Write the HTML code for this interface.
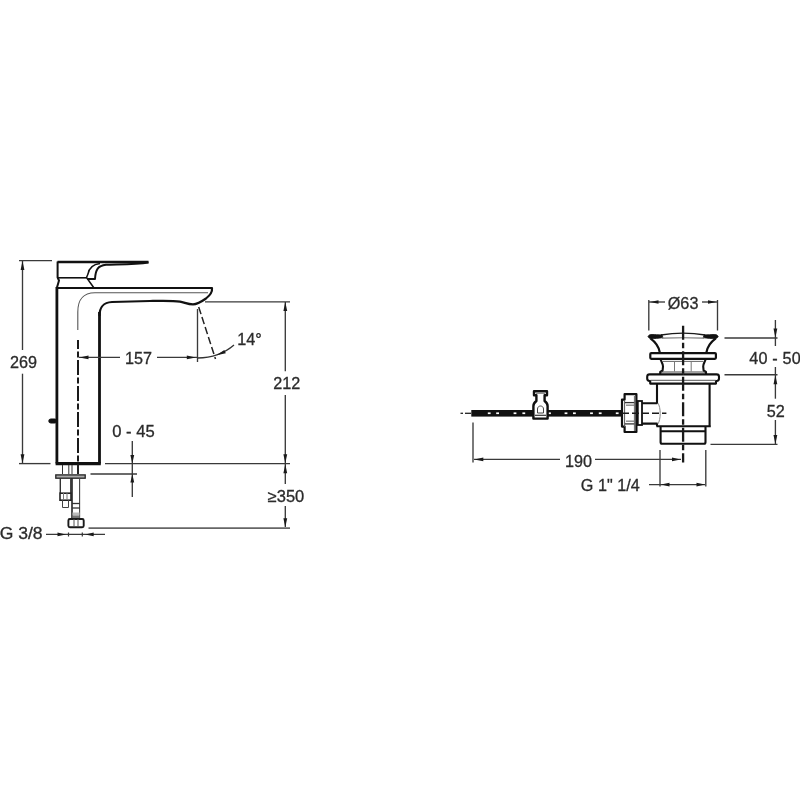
<!DOCTYPE html>
<html lang="en"><head><meta charset="utf-8"><title>Dimensions</title>
<style>
html,body{margin:0;padding:0;background:#fff;}
body{width:800px;height:800px;overflow:hidden;}
svg{display:block;font-family:"Liberation Sans",sans-serif;will-change:transform;}
</style></head><body>
<svg width="800" height="800" viewBox="0 0 800 800">
<rect width="800" height="800" fill="#fff"/>
<line x1="19" y1="260.6" x2="52" y2="260.6" stroke="#3a3a3a" stroke-width="1.35" />
<line x1="22.5" y1="261" x2="22.5" y2="350" stroke="#3a3a3a" stroke-width="1.35" />
<line x1="22.5" y1="373.7" x2="22.5" y2="463" stroke="#3a3a3a" stroke-width="1.35" />
<polygon points="22.5,261 20.6,270 24.4,270" fill="#1a1a1a"/>
<polygon points="22.5,463.3 20.6,454.3 24.4,454.3" fill="#1a1a1a"/>
<text x="23.6" y="368.1" font-size="16.2" text-anchor="middle" fill="#2b2b2b" stroke="#2b2b2b" stroke-width="0.3">269</text>
<line x1="19" y1="463.6" x2="50.5" y2="463.6" stroke="#3a3a3a" stroke-width="1.35" />
<line x1="105" y1="463.6" x2="290" y2="463.6" stroke="#3a3a3a" stroke-width="1.35" />
<path d="M57.5,262 H148.5" stroke="#111" stroke-width="2.4" fill="none" stroke-linejoin="round" />
<path d="M57.6,261.5 V277.5 L59,280.5 L58,284 L56.8,288" stroke="#111" stroke-width="2" fill="none" stroke-linejoin="round" />
<path d="M58,277.8 H86.5" stroke="#111" stroke-width="1.6" fill="none" stroke-linejoin="round" />
<path d="M148.5,262.6 C135,264.8 115,264.3 106,264.8 C98,265.8 95.5,269 95,279 H87" stroke="#111" stroke-width="2" fill="none" stroke-linejoin="round" />
<path d="M100,263.5 C92,264.5 89,268 88,274 L86.5,277.5 L94,288" stroke="#111" stroke-width="1.5" fill="none" stroke-linejoin="round" />
<path d="M56.9,288 H212 C212.5,292 210.5,295 206,298.5 C201,302 197,304.3 193,304.3 C188,304.3 185,302.6 180,301.6 C172,300.4 160,300.8 150,301 C138,301.3 125,301.6 112,302 C103,302.5 99.5,307 99.5,316" stroke="#111" stroke-width="2.2" fill="none" stroke-linejoin="round" />
<path d="M99.5,312 V463.4 M56.9,287 V463.4" stroke="#111" stroke-width="2.8" fill="none" stroke-linejoin="round" />
<path d="M55.6,463.7 H100.8" stroke="#111" stroke-width="3.2" fill="none" stroke-linejoin="round" />
<path d="M77.8,330 V312 C77.8,299 83,293 95,292.8 H208" stroke="#555" stroke-width="1.1" fill="none" stroke-linejoin="round" />
<line x1="78" y1="340" x2="78" y2="465" stroke="#1a1a1a" stroke-width="2" stroke-dasharray="15 2.5 6 2.5" stroke-dashoffset="6"/>
<rect x="48.8" y="419" width="8" height="4" rx="2" stroke="#111" stroke-width="1" fill="#111"/>
<line x1="62.5" y1="465" x2="62.5" y2="474" stroke="#333" stroke-width="1" />
<line x1="68.8" y1="465" x2="68.8" y2="474" stroke="#333" stroke-width="1" />
<line x1="72" y1="465" x2="72" y2="474" stroke="#333" stroke-width="1" />
<line x1="78" y1="465" x2="78" y2="474" stroke="#222" stroke-width="2" />
<rect x="55.8" y="474.9" width="29.4" height="3.3" rx="0" stroke="#222" stroke-width="1.3" fill="#aaa"/>
<line x1="90.5" y1="474" x2="137" y2="474" stroke="#3a3a3a" stroke-width="1.35" />
<path d="M60.3,478 V493 M70.8,478 V493" stroke="#333" stroke-width="1.4" fill="none" stroke-linejoin="round" />
<rect x="60" y="493.2" width="11" height="7" rx="0" stroke="#222" stroke-width="1.6" fill="none"/>
<line x1="63.5" y1="493" x2="63.5" y2="500" stroke="#777" stroke-width="1" />
<line x1="67" y1="493" x2="67" y2="500" stroke="#777" stroke-width="1" />
<path d="M62.5,500 V507.5 H68.5 V500" stroke="#444" stroke-width="1" fill="none" stroke-linejoin="round" />
<path d="M72,478 V519" stroke="#222" stroke-width="1.6" fill="none" stroke-linejoin="round" />
<path d="M79.6,478 V519" stroke="#444" stroke-width="1.1" fill="none" stroke-linejoin="round" />
<line x1="72" y1="503.5" x2="80" y2="503.5" stroke="#333" stroke-width="1.3" />
<line x1="72" y1="508" x2="80" y2="508" stroke="#333" stroke-width="1.3" />
<rect x="72.5" y="512.5" width="7" height="3" fill="#bbb"/><rect x="72.5" y="515.5" width="7" height="3" fill="#777"/>
<rect x="68.4" y="519" width="15.3" height="8.3" rx="1.5" stroke="#1a1a1a" stroke-width="1.9" fill="none"/>
<line x1="74" y1="519" x2="74" y2="527" stroke="#555" stroke-width="1" />
<line x1="78" y1="519" x2="78" y2="527" stroke="#555" stroke-width="1" />
<line x1="88.5" y1="528.1" x2="290" y2="528.1" stroke="#666" stroke-width="1.8" />
<text x="-0.3" y="539.1" font-size="16.2" text-anchor="start" fill="#2b2b2b" stroke="#2b2b2b" stroke-width="0.3" textLength="42.9" lengthAdjust="spacingAndGlyphs">G 3/8</text>
<line x1="46" y1="534.4" x2="105" y2="534.4" stroke="#3a3a3a" stroke-width="1.35" />
<polygon points="66,534.4 57.5,532.6 57.5,536.1999999999999" fill="#1a1a1a"/>
<polygon points="85.2,534.4 93.7,532.6 93.7,536.1999999999999" fill="#1a1a1a"/>
<line x1="68.5" y1="532.5" x2="68.5" y2="536.5" stroke="#333" stroke-width="1.2" />
<line x1="82.3" y1="532.5" x2="82.3" y2="536.5" stroke="#333" stroke-width="1.2" />
<text x="133.4" y="436.9" font-size="16.2" text-anchor="middle" fill="#2b2b2b" stroke="#2b2b2b" stroke-width="0.3" textLength="42.5" lengthAdjust="spacingAndGlyphs">0 - 45</text>
<line x1="132.3" y1="441" x2="132.3" y2="497" stroke="#3a3a3a" stroke-width="1.35" />
<polygon points="132.3,463.6 130.4,455.1 134.20000000000002,455.1" fill="#1a1a1a"/>
<polygon points="132.3,474 130.4,482.5 134.20000000000002,482.5" fill="#1a1a1a"/>
<line x1="79" y1="357.4" x2="120" y2="357.4" stroke="#3a3a3a" stroke-width="1.35" />
<line x1="157" y1="357.4" x2="197" y2="357.4" stroke="#3a3a3a" stroke-width="1.35" />
<polygon points="79.5,357.4 88.5,355.5 88.5,359.29999999999995" fill="#1a1a1a"/>
<polygon points="195.8,357.4 186.8,355.5 186.8,359.29999999999995" fill="#1a1a1a"/>
<text x="138.5" y="363.7" font-size="16.2" text-anchor="middle" fill="#2b2b2b" stroke="#2b2b2b" stroke-width="0.3">157</text>
<line x1="197.5" y1="309" x2="197.5" y2="362" stroke="#3a3a3a" stroke-width="1.35" />
<line x1="198.7" y1="307" x2="215.5" y2="359" stroke="#222" stroke-width="1.5" stroke-dasharray="7.5 3"/>
<path d="M197.5,358 C212,357.8 225,352.8 234,345" stroke="#333" stroke-width="1.3" fill="none" stroke-linejoin="round" />
<polygon points="216.5,355.2 224.3,350 225.8,353.2" fill="#1a1a1a"/>
<text x="249.6" y="344.5" font-size="16.2" text-anchor="middle" fill="#2b2b2b" stroke="#2b2b2b" stroke-width="0.3">14°</text>
<line x1="205" y1="301.8" x2="290" y2="301.8" stroke="#3a3a3a" stroke-width="1.35" />
<line x1="285.3" y1="302" x2="285.3" y2="371.3" stroke="#3a3a3a" stroke-width="1.35" />
<line x1="285.3" y1="395" x2="285.3" y2="463" stroke="#3a3a3a" stroke-width="1.35" />
<polygon points="285.3,302 283.40000000000003,311 287.2,311" fill="#1a1a1a"/>
<polygon points="285.3,463.3 283.40000000000003,454.3 287.2,454.3" fill="#1a1a1a"/>
<text x="286.8" y="389.4" font-size="16.2" text-anchor="middle" fill="#2b2b2b" stroke="#2b2b2b" stroke-width="0.3">212</text>
<line x1="285.3" y1="464" x2="285.3" y2="484" stroke="#3a3a3a" stroke-width="1.35" />
<line x1="285.3" y1="506" x2="285.3" y2="527" stroke="#3a3a3a" stroke-width="1.35" />
<polygon points="285.3,464.2 283.40000000000003,473.2 287.2,473.2" fill="#1a1a1a"/>
<polygon points="285.3,527.2 283.40000000000003,518.2 287.2,518.2" fill="#1a1a1a"/>
<text x="286" y="501.9" font-size="16.2" text-anchor="middle" fill="#2b2b2b" stroke="#2b2b2b" stroke-width="0.3" textLength="36.6" lengthAdjust="spacingAndGlyphs">≥350</text>
<line x1="648.8" y1="300" x2="648.8" y2="330.5" stroke="#3a3a3a" stroke-width="1.35" />
<line x1="717.5" y1="300" x2="717.5" y2="330.5" stroke="#3a3a3a" stroke-width="1.35" />
<line x1="649" y1="302" x2="665" y2="302" stroke="#3a3a3a" stroke-width="1.35" />
<line x1="702" y1="302" x2="717" y2="302" stroke="#3a3a3a" stroke-width="1.35" />
<polygon points="650,302 658.5,300.2 658.5,303.8" fill="#1a1a1a"/>
<polygon points="716.5,302 708.0,300.2 708.0,303.8" fill="#1a1a1a"/>
<text x="683.1" y="308.8" font-size="16.2" text-anchor="middle" fill="#2b2b2b" stroke="#2b2b2b" stroke-width="0.3">Ø63</text>
<path d="M661,335 C668,333.8 676,333.1 683.1,333.1 C690.2,333.1 698.2,333.8 705.2,335" stroke="#1a1a1a" stroke-width="1.4" fill="none" stroke-linejoin="round" />
<path d="M648,336.3 C649,334.9 650,334.5 652,334.5 C655,334.5 658,334.9 662,334.9 L663,337.6 C659,338.3 654,338.8 650.5,338.6 C649.3,338.4 648.4,337.6 648,336.3 Z" stroke="#111" stroke-width="0.8" fill="#111" stroke-linejoin="round" />
<path d="M 718.20,336.3 C 717.20,334.9 716.20,334.5 714.20,334.5 C 711.20,334.5 708.20,334.9 704.20,334.9 L 703.20,337.6 C 707.20,338.3 712.20,338.8 715.70,338.6 C 716.90,338.4 717.80,337.6 718.20,336.3 Z" stroke="#111" stroke-width="0.8" fill="#111" stroke-linejoin="round" />
<path d="M650.4,338.4 C654,341 658.6,345 659.8,352.5" stroke="#111" stroke-width="2.2" fill="none" stroke-linejoin="round" />
<path d="M 715.80,338.4 C 712.20,341 707.60,345 706.40,352.5" stroke="#111" stroke-width="2.2" fill="none" stroke-linejoin="round" />
<path d="M662,338.1 C669,337.9 676,337.8 683.1,337.8 C690.2,337.8 697.2,337.9 704.2,338.1" stroke="#777" stroke-width="1.1" fill="none" stroke-linejoin="round" />
<rect x="650.3" y="353.1" width="65.6" height="5.7" rx="1" stroke="#111" stroke-width="2.2" fill="#fff"/>
<path d="M660.6,359.5 C661.5,362 663,364 663,366.5 L662.6,370.5 L660.2,372 V374.3" stroke="#111" stroke-width="2.1" fill="none" stroke-linejoin="round" />
<path d="M 705.60,359.5 C 704.70,362 703.20,364 703.20,366.5 L 703.60,370.5 L 706.00,372 V 374.3" stroke="#111" stroke-width="2.1" fill="none" stroke-linejoin="round" />
<line x1="663" y1="361.4" x2="703.2" y2="361.4" stroke="#666" stroke-width="1" />
<line x1="661" y1="372" x2="705.2" y2="372" stroke="#444" stroke-width="1.1" />
<line x1="674.5" y1="362" x2="674.5" y2="371.5" stroke="#777" stroke-width="1" />
<line x1="691.2" y1="362" x2="691.2" y2="371.5" stroke="#777" stroke-width="1" />
<line x1="680.6" y1="366" x2="685.6" y2="366" stroke="#fff" stroke-width="1.2" />
<path d="M683.1,374.4 H649.6 Q647.2,374.4 647.2,376.8 V378.6 Q647.2,381 649.6,381 H650.2 V383.6 H683.1" stroke="#111" stroke-width="2.1" fill="none" stroke-linejoin="round" />
<path d="M 683.10,374.4 H 716.60 Q 719.00,374.4 719.00,376.8 V 378.6 Q 719.00,381 716.60,381 H 716.00 V 383.6 H 683.10" stroke="#111" stroke-width="2.1" fill="none" stroke-linejoin="round" />
<line x1="650.5" y1="380.3" x2="715.7" y2="380.3" stroke="#555" stroke-width="1" />
<path d="M657,383.6 V403.2 H642 M642,423.6 H657 V426.2 M709.6,383.6 V426.2 M656.4,426.2 H710.8 M660.6,426.2 V442.2 Q660.6,443.7 662.1,443.7 H704 Q705.5,443.7 705.5,442.2 V426.2 M660.3,431.2 H705.5" stroke="#111" stroke-width="2.1" fill="none" stroke-linejoin="round" />
<path d="M657.8,403 C661,407 661,420 657.8,424" stroke="#888" stroke-width="1" fill="none" stroke-linejoin="round" />
<rect x="637.8" y="401" width="4.2" height="24" rx="0" stroke="#111" stroke-width="1.8" fill="#fff"/>
<path d="M636.4,394.2 H624.6 V399.6 H622 V426.6 H624.6 V432 H636.4 Z" stroke="#111" stroke-width="2.2" fill="#fff" stroke-linejoin="round" />
<line x1="624.6" y1="400" x2="624.6" y2="427" stroke="#555" stroke-width="1" />
<line x1="625" y1="402.6" x2="635" y2="402.6" stroke="#333" stroke-width="1.3" />
<line x1="626" y1="405.2" x2="634" y2="405.2" stroke="#888" stroke-width="1.4" />
<line x1="626" y1="421.2" x2="634" y2="421.2" stroke="#888" stroke-width="1.4" />
<line x1="625" y1="423.9" x2="635" y2="423.9" stroke="#333" stroke-width="1.3" />
<line x1="634.4" y1="396" x2="634.4" y2="431" stroke="#666" stroke-width="1" />
<rect x="471.3" y="410" width="151" height="6.6" fill="#111"/>
<rect x="487.8" y="412.4" width="2.8" height="1.7" fill="#fff"/>
<rect x="496.20000000000005" y="412.4" width="2.8" height="1.7" fill="#fff"/>
<rect x="513.6" y="412.4" width="2.8" height="1.7" fill="#fff"/>
<rect x="522.4" y="412.4" width="2.8" height="1.7" fill="#fff"/>
<rect x="548.1" y="412.4" width="2.8" height="1.7" fill="#fff"/>
<rect x="564.6" y="412.4" width="2.8" height="1.7" fill="#fff"/>
<rect x="573.0" y="412.4" width="2.8" height="1.7" fill="#fff"/>
<rect x="590.1" y="412.4" width="2.8" height="1.7" fill="#fff"/>
<rect x="598.8000000000001" y="412.4" width="2.8" height="1.7" fill="#fff"/>
<rect x="615.8000000000001" y="412.4" width="2.8" height="1.7" fill="#fff"/>
<line x1="460.5" y1="413.3" x2="463" y2="413.3" stroke="#222" stroke-width="1.3" />
<line x1="465" y1="413.3" x2="471" y2="413.3" stroke="#222" stroke-width="1.3" />
<line x1="622" y1="413.3" x2="666.4" y2="413.3" stroke="#1a1a1a" stroke-width="1.4" stroke-dasharray="7 3"/>
<path d="M534,391.2 H547 V395.2 H544.6 V401 C546.6,402.5 547.6,404 547.6,406 V418.6 H533.4 V406 C533.4,404 534.4,402.5 536.4,401 V395.2 H534 Z" stroke="#111" stroke-width="2.4" fill="#fff" stroke-linejoin="round" />
<line x1="536" y1="393.3" x2="545" y2="393.3" stroke="#888" stroke-width="1.2" />
<path d="M537.5,409 C537.5,405 543.5,405 543.5,409 V413 H537.5 Z" stroke="#444" stroke-width="1" fill="none" stroke-linejoin="round" />
<line x1="535" y1="415.3" x2="546" y2="415.3" stroke="#333" stroke-width="1.2" />
<line x1="683.1" y1="325.7" x2="683.1" y2="462.5" stroke="#1a1a1a" stroke-width="2.3" stroke-dasharray="14 3 5.5 3"/>
<line x1="473" y1="422.5" x2="473" y2="462.5" stroke="#3a3a3a" stroke-width="1.35" />
<line x1="474" y1="459.4" x2="560" y2="459.4" stroke="#3a3a3a" stroke-width="1.35" />
<line x1="595" y1="459.4" x2="681" y2="459.4" stroke="#3a3a3a" stroke-width="1.35" />
<polygon points="474.3,459.4 483.3,457.5 483.3,461.29999999999995" fill="#1a1a1a"/>
<polygon points="680.5,459.4 672.0,457.5 672.0,461.29999999999995" fill="#1a1a1a"/>
<text x="578.4" y="466.6" font-size="16.2" text-anchor="middle" fill="#2b2b2b" stroke="#2b2b2b" stroke-width="0.3">190</text>
<text x="580.8" y="490.6" font-size="16.2" text-anchor="start" fill="#2b2b2b" stroke="#2b2b2b" stroke-width="0.3">G 1" 1/4</text>
<line x1="660" y1="450" x2="660" y2="486.5" stroke="#3a3a3a" stroke-width="1.35" />
<line x1="705.8" y1="450" x2="705.8" y2="486.5" stroke="#3a3a3a" stroke-width="1.35" />
<line x1="649" y1="484.6" x2="705" y2="484.6" stroke="#3a3a3a" stroke-width="1.35" />
<polygon points="661,484.6 669.5,482.8 669.5,486.40000000000003" fill="#1a1a1a"/>
<polygon points="705,484.6 696.5,482.8 696.5,486.40000000000003" fill="#1a1a1a"/>
<line x1="724.5" y1="338" x2="777.5" y2="338" stroke="#3a3a3a" stroke-width="1.35" />
<line x1="724.5" y1="374.7" x2="777.5" y2="374.7" stroke="#3a3a3a" stroke-width="1.35" />
<line x1="710.5" y1="444.4" x2="777.5" y2="444.4" stroke="#3a3a3a" stroke-width="1.35" />
<line x1="775.4" y1="320" x2="775.4" y2="346" stroke="#3a3a3a" stroke-width="1.35" />
<line x1="775.4" y1="367" x2="775.4" y2="398.7" stroke="#3a3a3a" stroke-width="1.35" />
<line x1="775.4" y1="420" x2="775.4" y2="444" stroke="#3a3a3a" stroke-width="1.35" />
<polygon points="775.4,337.6 773.5,328.6 777.3,328.6" fill="#1a1a1a"/>
<polygon points="775.4,375.2 773.5,384.2 777.3,384.2" fill="#1a1a1a"/>
<polygon points="775.4,444 773.5,435 777.3,435" fill="#1a1a1a"/>
<text x="749.2" y="363.5" font-size="16.2" text-anchor="start" fill="#2b2b2b" stroke="#2b2b2b" stroke-width="0.3" textLength="51.6" lengthAdjust="spacing">40 - 50</text>
<text x="775.7" y="416.9" font-size="16.2" text-anchor="middle" fill="#2b2b2b" stroke="#2b2b2b" stroke-width="0.3">52</text>
</svg>
</body></html>
